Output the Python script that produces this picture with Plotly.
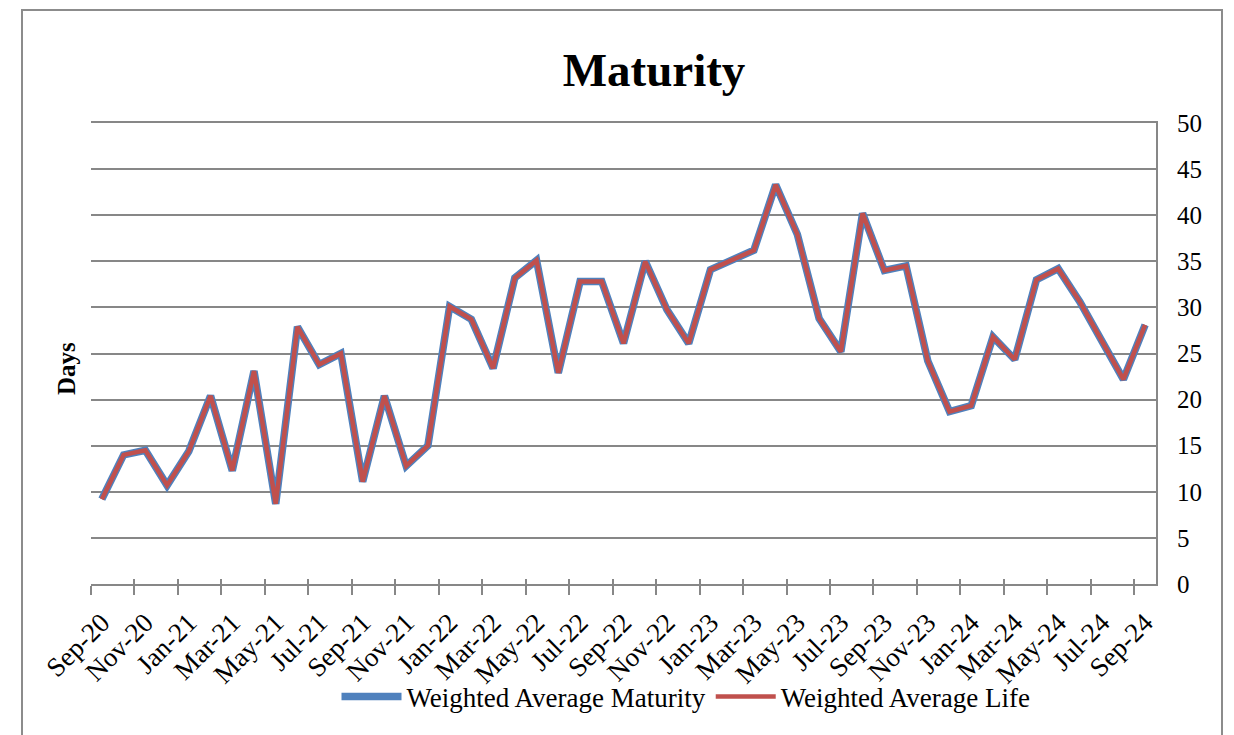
import plotly.graph_objects as go

months = ["Sep-20", "Oct-20", "Nov-20", "Dec-20", "Jan-21", "Feb-21", "Mar-21", "Apr-21",
          "May-21", "Jun-21", "Jul-21", "Aug-21", "Sep-21", "Oct-21", "Nov-21", "Dec-21",
          "Jan-22", "Feb-22", "Mar-22", "Apr-22", "May-22", "Jun-22", "Jul-22", "Aug-22",
          "Sep-22", "Oct-22", "Nov-22", "Dec-22", "Jan-23", "Feb-23", "Mar-23", "Apr-23",
          "May-23", "Jun-23", "Jul-23", "Aug-23", "Sep-23", "Oct-23", "Nov-23", "Dec-23",
          "Jan-24", "Feb-24", "Mar-24", "Apr-24", "May-24", "Jun-24", "Jul-24", "Aug-24",
          "Sep-24"]

wam = [9.2, 14.0, 14.5, 10.7, 14.4, 20.4, 12.3, 23.1, 8.7, 27.9, 23.8, 25.0, 11.1, 20.4,
       12.8, 15.0, 30.1, 28.7, 23.4, 33.2, 35.1, 22.9, 32.8, 32.8, 26.1, 35.0, 29.75, 26.1,
       34.1, 35.2, 36.2, 43.3, 37.9, 28.8, 25.2, 40.2, 34.0, 34.5, 24.2, 18.7, 19.35, 26.8,
       24.35, 33.0, 34.2, 30.6, 26.5, 22.2, 28.1]

wal = [9.2, 14.0, 14.5, 10.7, 14.4, 20.4, 12.3, 23.1, 8.7, 27.9, 23.8, 25.0, 11.1, 20.4,
       12.8, 15.0, 30.1, 28.7, 23.4, 33.2, 35.1, 22.9, 32.8, 32.8, 26.1, 35.0, 29.75, 26.1,
       34.1, 35.2, 36.2, 43.3, 37.9, 28.8, 25.2, 40.2, 34.0, 34.5, 24.2, 18.7, 19.35, 26.8,
       24.35, 33.0, 34.2, 30.6, 26.5, 22.2, 28.1]

y_ticks = [0, 5, 10, 15, 20, 25, 30, 35, 40, 45, 50]

FONT = "Liberation Serif, Times New Roman, serif"
GRAY = "#878787"

idx = list(range(len(months)))
label_idx = idx[::2]
label_txt = [months[i] for i in label_idx]
boundaries = [i - 0.5 for i in label_idx]

fig = go.Figure()
fig.add_trace(go.Scatter(x=idx, y=wam, mode="lines", name="Weighted Average Maturity",
                         line=dict(color="#4F81BD", width=7.5)))
fig.add_trace(go.Scatter(x=idx, y=wal, mode="lines", name="Weighted Average Life",
                         line=dict(color="#C0504D", width=4.5)))
# empty helper trace so that the overlay axis (inner tick marks) is drawn
fig.add_trace(go.Scatter(x=[], y=[], xaxis="x2", yaxis="y", showlegend=False,
                         hoverinfo="skip"))

W, H = 1234, 735
L, R, T, B = 91, 1156, 123, 584
pw, ph = R - L, B - T

def px(xp):
    return (xp - L) / pw

def py(yp):
    return (B - yp) / ph

fig.update_layout(
    width=W, height=H,
    margin=dict(l=L, r=W - R, t=T, b=H - B),
    paper_bgcolor="white", plot_bgcolor="white",
    font=dict(family=FONT, color="black", size=25),
    title=dict(text="<b>Maturity</b>", x=654 / W, xanchor="center",
               y=1 - 70 / H, yanchor="middle",
               font=dict(family=FONT, size=47, color="black")),
    showlegend=True,
    legend=dict(orientation="h", x=px(686), xanchor="center", y=py(697), yanchor="middle",
                font=dict(family=FONT, size=27), bgcolor="rgba(0,0,0,0)",
                itemwidth=60, traceorder="normal"),
    xaxis=dict(range=[-0.5, len(months) - 0.5], tickmode="array", tickvals=label_idx,
               ticktext=label_txt, tickangle=-45, ticks="", showgrid=False, zeroline=False,
               showline=True, mirror=True, linecolor=GRAY, linewidth=2, ticklabelstandoff=10,
               tickfont=dict(family=FONT, size=27),
               minor=dict(ticks="outside", tickmode="array", tickvals=boundaries,
                          ticklen=9, tickwidth=2, tickcolor=GRAY, showgrid=False)),
    xaxis2=dict(range=[-0.5, len(months) - 0.5], overlaying="x", anchor="y", side="bottom",
                tickmode="array", tickvals=boundaries, ticks="inside", ticklen=5,
                tickwidth=2, tickcolor=GRAY, showticklabels=False, showgrid=False,
                zeroline=False, showline=False),
    yaxis=dict(range=[0, 50], tickmode="array", tickvals=y_ticks, side="right",
               showgrid=True, gridcolor=GRAY, gridwidth=2, zeroline=False, showline=True,
               linecolor=GRAY, linewidth=2, ticks="", ticklabelstandoff=14,
               tickfont=dict(family=FONT, size=25)),
)

fig.add_annotation(text="<b>Days</b>", xref="paper", yref="paper", x=px(66), y=py(369),
                   xanchor="center", yanchor="middle",
                   textangle=-90, showarrow=False, font=dict(family=FONT, size=25, color="black"))

fig.add_shape(type="rect", xref="paper", yref="paper", x0=px(22), x1=px(1222),
              y0=py(780), y1=py(10), line=dict(color="#8c8c8c", width=2), layer="below")

fig.write_html("out.html", config={"displayModeBar": False},
               post_script="document.body.style.margin='0px';document.body.style.overflow='hidden';")
